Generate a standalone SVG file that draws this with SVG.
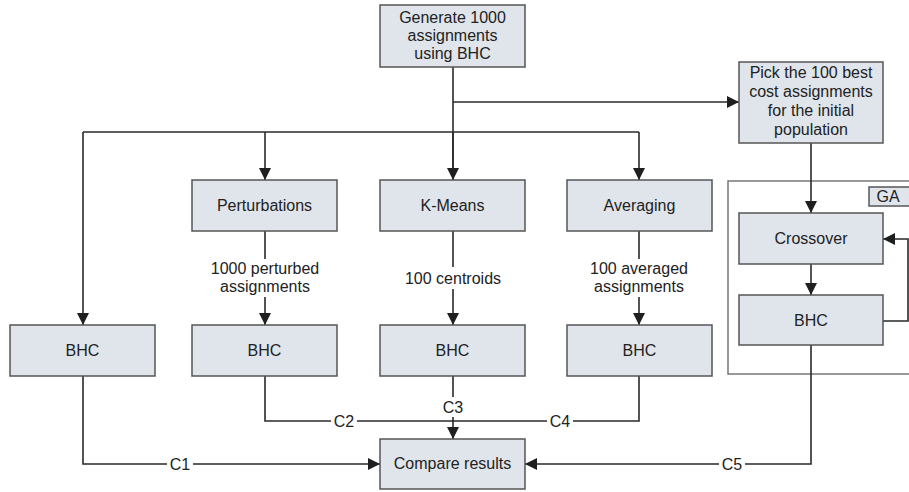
<svg xmlns="http://www.w3.org/2000/svg" width="909" height="492" viewBox="0 0 909 492">
<defs>
<marker id="arr" markerUnits="userSpaceOnUse" markerWidth="12" markerHeight="12" viewBox="0 0 12 12" refX="12" refY="6" orient="auto">
<path d="M0,0 L12,6 L0,12 z" fill="#1f1f1f"/>
</marker>
<style>
.box{fill:#dfe5eb;stroke:#555;stroke-width:1.5}
.ln{fill:none;stroke:#2a2a2a;stroke-width:1.6}
.t{font-family:"Liberation Sans",Arial,sans-serif;font-size:16px;fill:#222;text-anchor:middle}
.bg{fill:#fff}
</style>
</defs>
<rect width="909" height="492" fill="#fff"/>

<g id="ga-container">
<rect x="728" y="181" width="190" height="193" fill="none" stroke="#777" stroke-width="1.5"/>
</g>

<g id="connectors">
<path class="ln" d="M453,67 V172"/>
<path class="ln" d="M453,102 H739" marker-end="url(#arr)"/>
<path class="ln" d="M83,132 H639"/>
<path class="ln" d="M83,132 V325" marker-end="url(#arr)"/>
<path class="ln" d="M265,132 V180" marker-end="url(#arr)"/>
<path class="ln" d="M453,132 V180" marker-end="url(#arr)"/>
<path class="ln" d="M639,132 V180" marker-end="url(#arr)"/>
<path class="ln" d="M265,231 V259 M265,297 V325" marker-end="url(#arr)"/>
<path class="ln" d="M453,231 V267 M453,289 V325" marker-end="url(#arr)"/>
<path class="ln" d="M639,231 V259 M639,297 V325" marker-end="url(#arr)"/>
<path class="ln" d="M811,143 V213" marker-end="url(#arr)"/>
<path class="ln" d="M811,264 V295" marker-end="url(#arr)"/>
<path class="ln" d="M883,321 H908 V239 H883" marker-end="url(#arr)"/>
<path class="ln" d="M265,376 V421 H639 V376"/>
<path class="ln" d="M453,376 V397 M453,417 V439" marker-end="url(#arr)"/>
<path class="ln" d="M83,376 V464 H380" marker-end="url(#arr)"/>
<path class="ln" d="M811,345 V464 H525" marker-end="url(#arr)"/>
<rect class="bg" x="331" y="412" width="26" height="18"/>
<rect class="bg" x="547" y="412" width="26" height="18"/>
<rect class="bg" x="167" y="455" width="26" height="18"/>
<rect class="bg" x="719" y="455" width="26" height="18"/>
<text class="t" x="344" y="427">C2</text>
<text class="t" x="453" y="413">C3</text>
<text class="t" x="560" y="427">C4</text>
<text class="t" x="180" y="470">C1</text>
<text class="t" x="732" y="470">C5</text>
<text class="t" x="265" y="274">1000 perturbed</text>
<text class="t" x="265" y="292">assignments</text>
<text class="t" x="453" y="284">100 centroids</text>
<text class="t" x="639" y="274">100 averaged</text>
<text class="t" x="639" y="292">assignments</text>
</g>

<g id="generate">
<rect class="box" x="380" y="5" width="145" height="62"/>
<text class="t" x="452.5" y="23">Generate 1000</text>
<text class="t" x="452.5" y="41">assignments</text>
<text class="t" x="452.5" y="59">using BHC</text>
</g>

<g id="pick">
<rect class="box" x="739" y="62" width="144" height="81"/>
<text class="t" x="811" y="78">Pick the 100 best</text>
<text class="t" x="811" y="97">cost assignments</text>
<text class="t" x="811" y="116">for the initial</text>
<text class="t" x="811" y="135">population</text>
</g>

<g id="perturbations">
<rect class="box" x="192" y="180" width="145" height="51"/>
<text class="t" x="264.5" y="211">Perturbations</text>
</g>

<g id="kmeans">
<rect class="box" x="380" y="180" width="145" height="51"/>
<text class="t" x="452.5" y="211">K-Means</text>
</g>

<g id="averaging">
<rect class="box" x="567" y="180" width="145" height="51"/>
<text class="t" x="639.5" y="211">Averaging</text>
</g>

<g id="bhc1">
<rect class="box" x="10" y="325" width="145" height="51"/>
<text class="t" x="82.5" y="356">BHC</text>
</g>

<g id="bhc2">
<rect class="box" x="192" y="325" width="145" height="51"/>
<text class="t" x="264.5" y="356">BHC</text>
</g>

<g id="bhc3">
<rect class="box" x="380" y="325" width="145" height="51"/>
<text class="t" x="452.5" y="356">BHC</text>
</g>

<g id="bhc4">
<rect class="box" x="567" y="325" width="145" height="51"/>
<text class="t" x="639.5" y="356">BHC</text>
</g>

<g id="ga-label">
<rect class="box" x="869" y="187" width="50" height="19"/>
<text class="t" x="888" y="202">GA</text>
</g>

<g id="crossover">
<rect class="box" x="739" y="213" width="144" height="51"/>
<text class="t" x="811" y="244">Crossover</text>
</g>

<g id="bhc-ga">
<rect class="box" x="739" y="295" width="144" height="50"/>
<text class="t" x="811" y="326">BHC</text>
</g>

<g id="compare">
<rect class="box" x="380" y="439" width="145" height="50"/>
<text class="t" x="452.5" y="469">Compare results</text>
</g>
</svg>
